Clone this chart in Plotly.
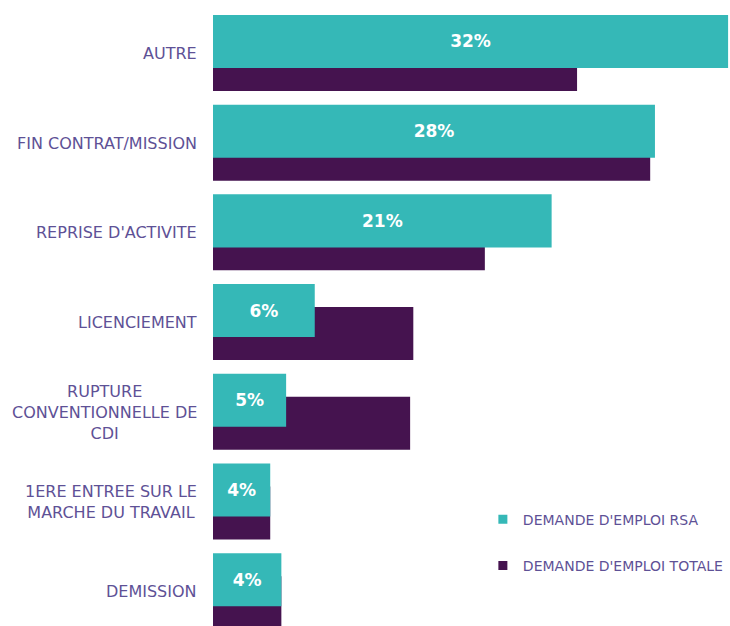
import plotly.graph_objects as go

categories = ["AUTRE", "FIN CONTRAT/MISSION", "REPRISE D'ACTIVITE", "LICENCIEMENT",
              "RUPTURE<br>CONVENTIONNELLE DE<br>CDI", "1ERE ENTREE SUR LE<br>MARCHE DU TRAVAIL", "DEMISSION"]
rsa_values = [32.4, 27.8, 21.3, 6.4, 4.6, 3.6, 4.3]
total_values = [22.9, 27.5, 17.1, 12.6, 12.4, 3.6, 4.3]
series_names = ["DEMANDE D'EMPLOI RSA", "DEMANDE D'EMPLOI TOTALE"]

TEAL = "#35b8b7"
PURPLE = "#45134f"
LABEL = "#5e5196"
FONT = "DejaVu Sans, Verdana, sans-serif"

idx = list(range(len(categories)))

fig = go.Figure()
fig.add_trace(go.Bar(
    y=idx, x=total_values, orientation="h", name=series_names[1],
    marker=dict(color=PURPLE, line=dict(width=0)),
    width=0.591, offset=-0.173, showlegend=False, hoverinfo="x+name",
))
fig.add_trace(go.Bar(
    y=idx, x=rsa_values, orientation="h", name=series_names[0],
    marker=dict(color=TEAL, line=dict(width=0)),
    width=0.591, offset=-0.429, showlegend=False,
    texttemplate="%{x:.0f}%", textposition="inside", insidetextanchor="middle",
    textfont=dict(color="white", size=17, family=FONT, weight="bold"),
    textangle=0, constraintext="none",
))
# legend entries
fig.add_trace(go.Scatter(x=[None], y=[None], mode="markers", name=series_names[0],
                         marker=dict(symbol="square", size=9, color=TEAL), legendgroup="a"))
fig.add_trace(go.Scatter(x=[None], y=[None], mode="markers", name=series_names[1],
                         marker=dict(symbol="square", size=9, color=PURPLE), legendgroup="b"))

for i, c in enumerate(categories):
    fig.add_annotation(x=0, y=i, xref="x", yref="y", text=c, showarrow=False,
                       xanchor="right", yanchor="middle", align="center", xshift=-14,
                       font=dict(size=16, color=LABEL, family=FONT))

fig.update_layout(
    width=730, height=626,
    margin=dict(l=213, r=0, t=0, b=0, autoexpand=False),
    plot_bgcolor="white", paper_bgcolor="white",
    barmode="overlay",
    xaxis=dict(range=[0, 32.52], visible=False, fixedrange=True),
    yaxis=dict(range=[6.383, -0.596], visible=False, fixedrange=True),
    legend=dict(x=0.522, y=0.1955, xanchor="left", yanchor="top",
                font=dict(size=14, color=LABEL, family=FONT),
                traceorder="grouped", tracegroupgap=25, itemwidth=30,
                bgcolor="rgba(0,0,0,0)"),
    showlegend=True,
)

fig.write_html("out.html", config={"displayModeBar": False},
               post_script="document.body.style.margin='0';document.body.style.overflow='hidden';")
